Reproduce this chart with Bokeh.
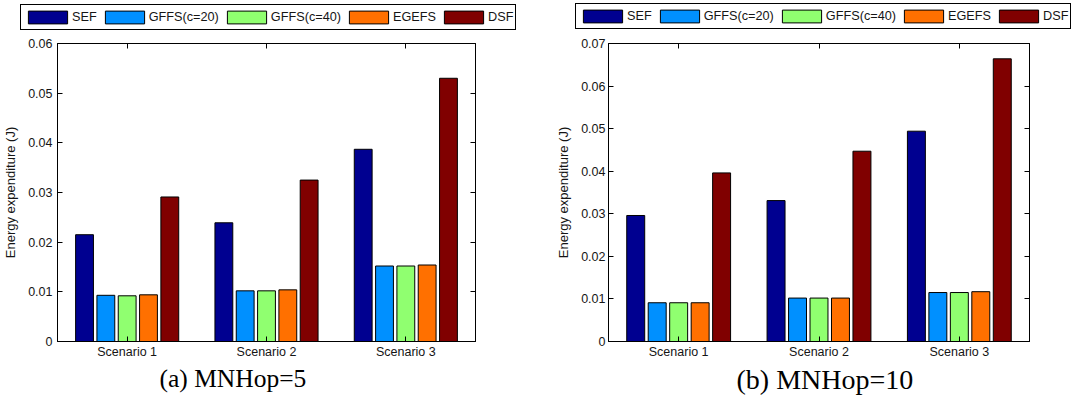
from bokeh.plotting import figure
from bokeh.models import (Range1d, FixedTicker, LinearAxis, CategoricalAxis,
                          Legend, LegendItem, Title, ColumnDataSource)
from bokeh.transform import dodge
from bokeh.layouts import row, column
from bokeh.embed import file_html
from bokeh.resources import INLINE

scenarios = ["Scenario 1", "Scenario 2", "Scenario 3"]
methods = ["SEF", "GFFS(c=20)", "GFFS(c=40)", "EGEFS", "DSF"]
colors = ["#000090", "#0090FF", "#90FF70", "#FF7000", "#800000"]

# (a) MNHop=5
sef_5 = [0.0215, 0.0239, 0.0387]
gffs20_5 = [0.0093, 0.0102, 0.0152]
gffs40_5 = [0.0092, 0.0102, 0.0152]
egefs_5 = [0.0094, 0.0104, 0.0154]
dsf_5 = [0.0291, 0.0325, 0.0530]

# (b) MNHop=10
sef_10 = [0.0296, 0.0331, 0.0494]
gffs20_10 = [0.0091, 0.0102, 0.0115]
gffs40_10 = [0.0091, 0.0102, 0.0115]
egefs_10 = [0.0091, 0.0102, 0.0117]
dsf_10 = [0.0396, 0.0447, 0.0664]

yticks_5 = [0, 0.01, 0.02, 0.03, 0.04, 0.05, 0.06]
ylabels_5 = ["0", "0.01", "0.02", "0.03", "0.04", "0.05", "0.06"]
yticks_10 = [0, 0.01, 0.02, 0.03, 0.04, 0.05, 0.06, 0.07]
ylabels_10 = ["0", "0.01", "0.02", "0.03", "0.04", "0.05", "0.06", "0.07"]

caption_5 = "(a) MNHop=5"
caption_10 = "(b) MNHop=10"
ylabel = "Energy expenditure (J)"

SANS = "Liberation Sans"
SERIF = "Liberation Serif"
TXT = "#151515"
LEG_H = 36


def make_legend_fig(series, width, loc):
    src = ColumnDataSource(dict(x=scenarios, **{f"s{i}": v for i, v in enumerate(series)}))
    lf = figure(frame_width=width, frame_height=LEG_H, x_range=scenarios, y_range=Range1d(1, 2),
                x_axis_type=None, y_axis_type=None, output_backend="svg",
                toolbar_location=None, min_border=0, outline_line_color=None,
                background_fill_color="white", border_fill_color="white")
    lf.xgrid.visible = False
    lf.ygrid.visible = False
    items = []
    for i, (m, c) in enumerate(zip(methods, colors)):
        r = lf.vbar(x="x", top=f"s{i}", width=0.1, source=src,
                    fill_color=c, line_color="black", line_width=1)
        items.append(LegendItem(label=m, renderers=[r]))
    legend = Legend(items=items, orientation="horizontal", location=loc,
                    glyph_width=49, glyph_height=16, label_standoff=0, spacing=3,
                    padding=2, label_height=20, label_width=10,
                    label_text_font=SANS, label_text_font_size="12.7px", label_text_color=TXT,
                    border_line_color="black", border_line_width=1, border_line_alpha=1,
                    background_fill_color="white", background_fill_alpha=1, margin=0)
    lf.add_layout(legend)
    return lf


def make_panel(series, yticks, ylabels, caption, width, height, bl, br, bt, bb,
               cap_offset, cap_size, ytick_standoff):
    src = ColumnDataSource(dict(x=scenarios, **{f"s{i}": v for i, v in enumerate(series)}))
    p = figure(x_range=scenarios, y_range=Range1d(yticks[0], yticks[-1]),
               width=width, height=height, output_backend="svg", toolbar_location=None,
               min_border_left=bl, min_border_right=br, min_border_top=bt, min_border_bottom=bb,
               background_fill_color="white", border_fill_color="white",
               outline_line_color="black", outline_line_width=1)
    p.x_range.range_padding = 0
    p.xgrid.visible = False
    p.ygrid.visible = False

    offsets = [-0.306, -0.153, 0.0, 0.153, 0.306]
    for i, (m, c, off) in enumerate(zip(methods, colors, offsets)):
        p.vbar(x=dodge("x", off, range=p.x_range), top=f"s{i}", width=0.128, source=src,
               fill_color=c, line_color="black", line_width=1)

    ya = p.yaxis[0]
    ya.ticker = FixedTicker(ticks=yticks)
    ya.major_label_overrides = dict(zip(yticks, ylabels))
    ya.axis_label = ylabel
    ya.axis_label_text_font = SANS
    ya.axis_label_text_font_size = "13px"
    ya.axis_label_text_font_style = "normal"
    ya.axis_label_text_color = TXT
    ya.axis_label_standoff = 7
    ya.major_label_standoff = ytick_standoff

    xa = p.xaxis[0]
    xa.major_label_standoff = 3

    for ax in (xa, ya):
        ax.major_tick_in = 5
        ax.major_tick_out = 0
        ax.minor_tick_in = 0
        ax.minor_tick_out = 0
        ax.axis_line_color = "black"
        ax.major_tick_line_color = "black"
        ax.major_label_text_font = SANS
        ax.major_label_text_font_size = "12.5px"
        ax.major_label_text_color = TXT

    ra = LinearAxis(ticker=FixedTicker(ticks=yticks), major_label_text_font_size="1px",
                    major_label_text_color=None,
                    major_tick_in=5, major_tick_out=0, minor_tick_in=0, minor_tick_out=0,
                    major_label_standoff=0, axis_line_color="black")
    p.add_layout(ra, "right")
    ta = CategoricalAxis(major_label_text_font_size="1px", major_label_text_color=None,
                         major_tick_in=5, major_tick_out=0,
                         major_label_standoff=0, axis_line_color="black")
    p.add_layout(ta, "above")

    t = Title(text=caption, align="left", offset=cap_offset, text_font=SERIF,
              text_font_size=cap_size, text_font_style="normal", text_color="black",
              standoff=0)
    p.add_layout(t, "below")
    return p


series_5 = [sef_5, gffs20_5, gffs40_5, egefs_5, dsf_5]
series_10 = [sef_10, gffs20_10, gffs40_10, egefs_10, dsf_10]

leg1 = make_legend_fig(series_5, 536, (20, 6))
leg2 = make_legend_fig(series_10, 537, (39, 7))
p1 = make_panel(series_5, yticks_5, ylabels_5, caption_5,
                536, 397 - LEG_H, 53, 61, 43 - LEG_H, 56, 102, "25.5px", 5)
p2 = make_panel(series_10, yticks_10, ylabels_10, caption_10,
                537, 397 - LEG_H, 72, 44, 42 - LEG_H, 52, 128, "28px", 3)

layout = column(row(leg1, leg2), row(p1, p2))
open("out.html", "w").write(file_html(layout, INLINE))
